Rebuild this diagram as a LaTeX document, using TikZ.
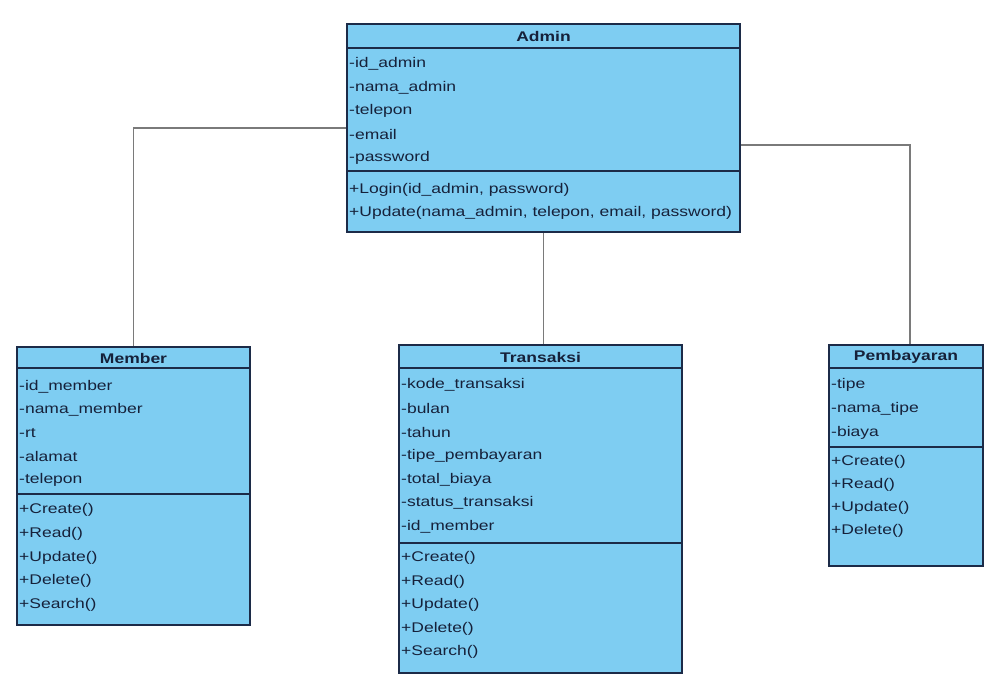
\documentclass[tikz,border=0pt]{standalone}
\usepackage{fontspec}
\setmainfont[FakeStretch=1.25]{Liberation Sans}
\usepackage{tikz}
\usetikzlibrary{positioning,calc}
\definecolor{umlfill}{HTML}{7ECDF2}
\definecolor{umledge}{HTML}{1C2B48}
\definecolor{umltext}{HTML}{16213A}
\definecolor{linkgray}{HTML}{7A7A7A}

\begin{document}
\begin{tikzpicture}[x=1pt,y=-1pt,
  classbox/.style={draw=umledge,fill=umlfill,line width=1.8pt,rectangle,inner sep=0pt},
  classname/.style={font=\fontsize{14}{16}\selectfont\bfseries,text=umltext,inner sep=0pt},
  row/.style={font=\fontsize{14}{16}\selectfont,text=umltext,anchor=west,inner sep=0pt},
  rule/.style={draw=umledge,line width=1.6pt},
  link/.style={draw=linkgray,line width=1.8pt}]
  \useasboundingbox (0,0) rectangle (985,677);

  \coordinate (admin-c) at (543.5,128);
  \coordinate (member-c) at (133.5,486);
  \coordinate (trans-c) at (540.5,509);
  \coordinate (bayar-c) at (906,455.5);

  % Admin
  \node[classbox,minimum width=393pt,minimum height=208pt] (admin) at (admin-c) {};
  \node[classname] (admin-t) at (543.5,36) {Admin};
  \draw[rule] (admin.west |- 0,48) -- (admin.east |- 0,48);
  \draw[rule] (admin.west |- 0,171) -- (admin.east |- 0,171);
  \foreach \entry [count=\i] in {-id\_admin,-nama\_admin,-telepon,-email,-password}
    \node[row] (admin-a\i) at (349,{64+23.4*(\i-1)}) {\entry};
  \foreach \entry [count=\i] in {{+Login(id\_admin, password)},
      {+Update(nama\_admin, telepon, email, password)}}
    \node[row] (admin-m\i) at (349,{190+23*(\i-1)}) {\entry};

  % Member
  \node[classbox,minimum width=233pt,minimum height=278pt] (member) at (member-c) {};
  \node[classname] (member-t) at (133.5,358) {Member};
  \draw[rule] (member.west |- 0,368) -- (member.east |- 0,368);
  \draw[rule] (member.west |- 0,494) -- (member.east |- 0,494);
  \foreach \entry [count=\i] in {-id\_member,-nama\_member,-rt,-alamat,-telepon}
    \node[row] (member-a\i) at (19,{387+23.2*(\i-1)}) {\entry};
  \foreach \entry [count=\i] in {+Create(),+Read(),+Update(),+Delete(),+Search()}
    \node[row] (member-m\i) at (19,{510+23.7*(\i-1)}) {\entry};

  % Transaksi
  \node[classbox,minimum width=283pt,minimum height=328pt] (trans) at (trans-c) {};
  \node[classname] (trans-t) at (540.5,357) {Transaksi};
  \draw[rule] (trans.west |- 0,368) -- (trans.east |- 0,368);
  \draw[rule] (trans.west |- 0,543) -- (trans.east |- 0,543);
  \foreach \entry [count=\i] in {-kode\_transaksi,-bulan,-tahun,-tipe\_pembayaran,
      -total\_biaya,-status\_transaksi,-id\_member}
    \node[row] (trans-a\i) at (401,{385+23.6*(\i-1)}) {\entry};
  \foreach \entry [count=\i] in {+Create(),+Read(),+Update(),+Delete(),+Search()}
    \node[row] (trans-m\i) at (401,{558+23.5*(\i-1)}) {\entry};

  % Pembayaran
  \node[classbox,minimum width=154pt,minimum height=221pt] (bayar) at (bayar-c) {};
  \node[classname] (bayar-t) at (906,357) {Pembayaran};
  \draw[rule] (bayar.west |- 0,368) -- (bayar.east |- 0,368);
  \draw[rule] (bayar.west |- 0,447) -- (bayar.east |- 0,447);
  \foreach \entry [count=\i] in {-tipe,-nama\_tipe,-biaya}
    \node[row] (bayar-a\i) at (831,{385+23.8*(\i-1)}) {\entry};
  \foreach \entry [count=\i] in {+Create(),+Read(),+Update(),+Delete()}
    \node[row] (bayar-m\i) at (831,{462+22.8*(\i-1)}) {\entry};

  % associations
  \draw[link] (admin.west) -| (member.north);
  \draw[link] (admin.south) -- (admin.south |- trans.north);
  \draw[link] ([yshift=-17pt]admin.east) -| ([xshift=4pt]bayar.north);
\end{tikzpicture}
\end{document}
